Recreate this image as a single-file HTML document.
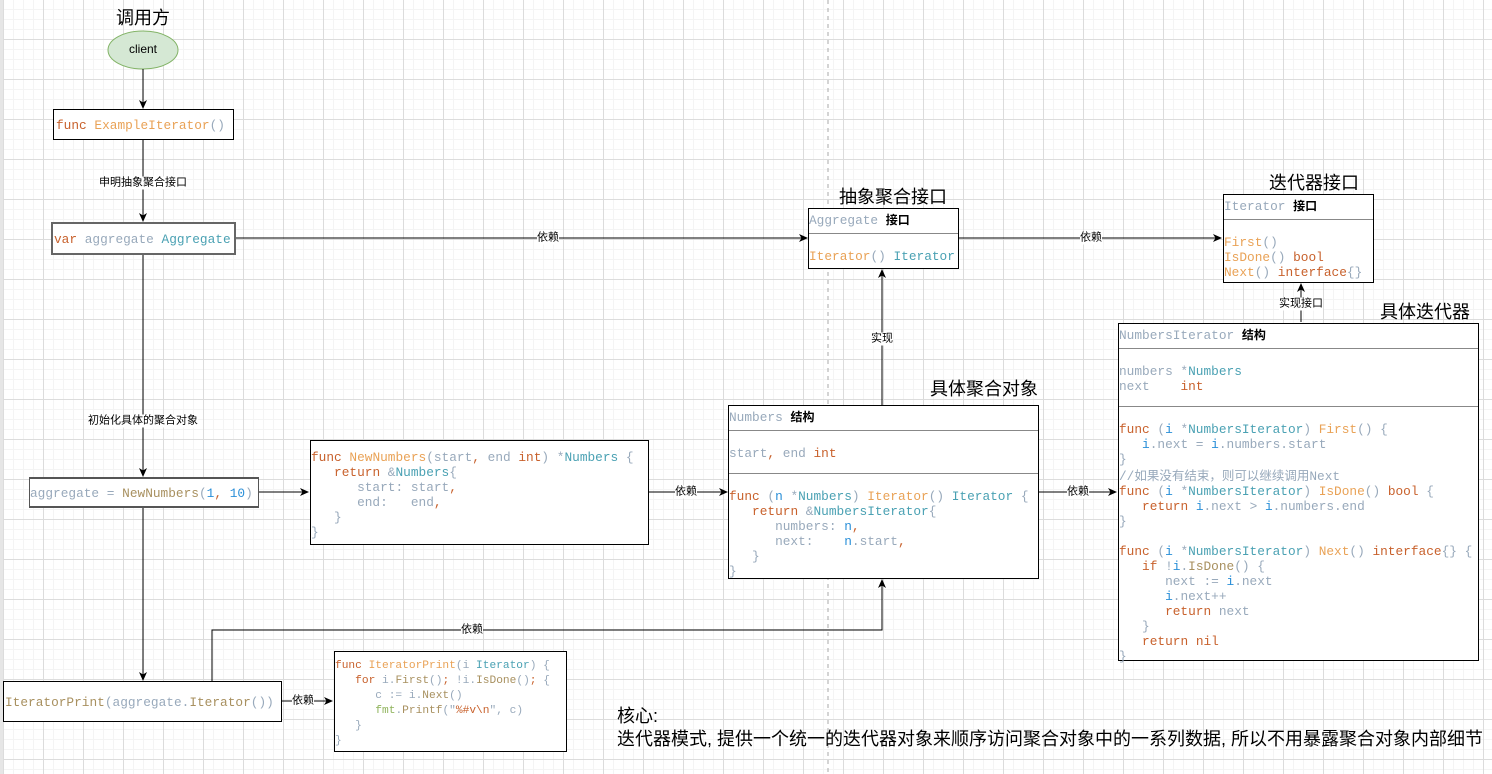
<!DOCTYPE html>
<html><head><meta charset="utf-8"><style>
html,body{margin:0;padding:0}
body{width:1492px;height:774px;position:relative;overflow:hidden;background:#fff;
background-image:linear-gradient(#dcdcdc 1px,transparent 1px),linear-gradient(90deg,#dcdcdc 1px,transparent 1px),linear-gradient(#f4f4f4 1px,transparent 1px),linear-gradient(90deg,#f4f4f4 1px,transparent 1px);
background-size:40px 40px,40px 40px,10px 10px,10px 10px;background-position:3px 39px,3px 39px,3px 9px,3px 9px;
font-family:"Liberation Sans","Noto Sans CJK SC",sans-serif}
.a{position:absolute}
.box{position:absolute;border:1px solid #000;background:#fff;box-sizing:border-box}
pre{margin:0;font-family:"Liberation Mono",monospace;font-size:12.8px;line-height:15px;color:#98a9bb;white-space:pre}
.k{color:#c8612c}.f{color:#e9a256}.t{color:#4aa1b3}.b{color:#2a8fd8}.y{color:#a8905f}.gr{color:#8fb35b}.bk{color:#000;font-family:"Liberation Sans","Noto Sans CJK SC",sans-serif;font-weight:bold;font-size:12px}
.ttl{position:absolute;font-size:18px;color:#000;white-space:nowrap;transform:translateX(-50%)}
.lbl{position:absolute;font-size:11px;background:#fff;white-space:nowrap;transform:translate(-50%,-50%);color:#000;line-height:13px}
.hl{position:absolute;left:0;right:0;height:1px;background:#888}
</style></head><body>
<div class="a" style="left:0;top:0;width:3px;height:774px;background:#e6e6e6"></div>
<svg class="a" style="left:0;top:0" width="1492" height="774">
<defs><marker id="ar" markerWidth="10" markerHeight="10" refX="8" refY="5" orient="auto" markerUnits="userSpaceOnUse"><path d="M0,1 L9,5 L0,9 L2.5,5z" fill="#000"/></marker></defs>
<line x1="828" y1="0" x2="828" y2="774" stroke="#aaa" stroke-dasharray="4,4"/>
<ellipse cx="143" cy="50" rx="35" ry="19" fill="#d5e8d4" stroke="#82b366"/>
<g stroke="#000" fill="none" stroke-width="1">
<line x1="143" y1="69" x2="143" y2="108" marker-end="url(#ar)"/>
<line x1="143" y1="139" x2="143" y2="221" marker-end="url(#ar)"/>
<line x1="143" y1="254" x2="143" y2="476" marker-end="url(#ar)"/>
<line x1="143" y1="507" x2="143" y2="680" marker-end="url(#ar)"/>
<line x1="235" y1="238" x2="807" y2="238" marker-end="url(#ar)"/>
<line x1="958" y1="238" x2="1221" y2="238" marker-end="url(#ar)"/>
<line x1="1301" y1="322" x2="1301" y2="284" marker-end="url(#ar)"/>
<line x1="882" y1="405" x2="882" y2="270" marker-end="url(#ar)"/>
<line x1="1038" y1="492" x2="1116" y2="492" marker-end="url(#ar)"/>
<line x1="648" y1="492" x2="727" y2="492" marker-end="url(#ar)"/>
<line x1="258" y1="492" x2="308" y2="492" marker-end="url(#ar)"/>
<polyline points="212,681 212,630 882,630 882,580" marker-end="url(#ar)"/>
<line x1="281" y1="701" x2="332" y2="701" marker-end="url(#ar)"/>
</g></svg>
<div class="ttl" style="left:143px;top:4px">调用方</div>
<div class="a" style="left:108px;top:42px;width:70px;text-align:center;font-size:12px">client</div>
<div class="box" style="left:53px;top:109px;width:181px;height:31px"><pre style="position:absolute;left:2px;top:8px"><span class="k">func</span> <span class="f">ExampleIterator</span>()</pre></div>
<div class="lbl" style="left:143px;top:183px">申明抽象聚合接口</div>
<div class="box" style="left:51px;top:222px;width:185px;height:33px;border:2px solid #666"><pre style="position:absolute;left:1px;top:8px"><span class="k">var</span> aggregate <span class="t">Aggregate</span></pre></div>
<div class="lbl" style="left:548px;top:238px">依赖</div>
<div class="ttl" style="left:893px;top:183px">抽象聚合接口</div>
<div class="box" style="left:808px;top:208px;width:151px;height:61px">
<pre style="position:absolute;left:0;top:4px">Aggregate <span class="bk">接口</span></pre><div class="hl" style="top:24px"></div>
<pre style="position:absolute;left:0;top:40px"><span class="f">Iterator</span>() <span class="t">Iterator</span></pre></div>
<div class="lbl" style="left:1091px;top:238px">依赖</div>
<div class="ttl" style="left:1314px;top:169px">迭代器接口</div>
<div class="box" style="left:1223px;top:194px;width:151px;height:89px">
<pre style="position:absolute;left:0;top:4px">Iterator <span class="bk">接口</span></pre><div class="hl" style="top:24px"></div>
<pre style="position:absolute;left:0;top:40px"><span class="f">First</span>()
<span class="f">IsDone</span>() <span class="k">bool</span>
<span class="f">Next</span>() <span class="k">interface</span>{}</pre></div>
<div class="lbl" style="left:1301px;top:304px">实现接口</div>
<div class="ttl" style="left:1425px;top:298px">具体迭代器</div>
<div class="box" style="left:1118px;top:323px;width:361px;height:338px">
<pre style="position:absolute;left:0;top:4px">NumbersIterator <span class="bk">结构</span></pre><div class="hl" style="top:24px"></div>
<pre style="position:absolute;left:0;top:40px">numbers *<span class="t">Numbers</span>
next    <span class="k">int</span></pre><div class="hl" style="top:82px"></div>
<pre style="position:absolute;left:0;top:98px"><span class="k">func</span> (<span class="b">i</span> *<span class="t">NumbersIterator</span>) <span class="f">First</span>() {
   <span class="b">i</span>.next = <span class="b">i</span>.numbers.start
}
//<span style="font-family:'Noto Sans CJK SC',sans-serif;font-size:12.5px">如果没有结束，则可以继续调用</span>Next
<span class="k">func</span> (<span class="b">i</span> *<span class="t">NumbersIterator</span>) <span class="f">IsDone</span>() <span class="k">bool</span> {
   <span class="k">return</span> <span class="b">i</span>.next > <span class="b">i</span>.numbers.end
}

<span class="k">func</span> (<span class="b">i</span> *<span class="t">NumbersIterator</span>) <span class="f">Next</span>() <span class="k">interface</span>{} {
   <span class="k">if</span> !<span class="b">i</span>.<span class="y">IsDone</span>() {
      next := <span class="b">i</span>.next
      <span class="b">i</span>.next++
      <span class="k">return</span> next
   }
   <span class="k">return</span> <span class="k">nil</span>
}</pre></div>
<div class="ttl" style="left:984px;top:375px">具体聚合对象</div>
<div class="lbl" style="left:882px;top:339px">实现</div>
<div class="box" style="left:728px;top:405px;width:311px;height:174px">
<pre style="position:absolute;left:0;top:4px">Numbers <span class="bk">结构</span></pre><div class="hl" style="top:24px"></div>
<pre style="position:absolute;left:0;top:40px">start<span class="k">,</span> end <span class="k">int</span></pre><div class="hl" style="top:67px"></div>
<pre style="position:absolute;left:0;top:83px"><span class="k">func</span> (<span class="b">n</span> *<span class="t">Numbers</span>) <span class="f">Iterator</span>() <span class="t">Iterator</span> {
   <span class="k">return</span> &amp;<span class="t">NumbersIterator</span>{
      numbers: <span class="b">n</span><span class="k">,</span>
      next:    <span class="b">n</span>.start<span class="k">,</span>
   }
}</pre></div>
<div class="lbl" style="left:1078px;top:492px">依赖</div>
<div class="box" style="left:310px;top:440px;width:339px;height:105px">
<pre style="position:absolute;left:0;top:9px"><span class="k">func</span> <span class="f">NewNumbers</span>(start<span class="k">,</span> end <span class="k">int</span>) *<span class="t">Numbers</span> {
   <span class="k">return</span> &amp;<span class="t">Numbers</span>{
      start: start<span class="k">,</span>
      end:   end<span class="k">,</span>
   }
}</pre></div>
<div class="lbl" style="left:686px;top:492px">依赖</div>
<div class="lbl" style="left:143px;top:421px">初始化具体的聚合对象</div>
<div class="box" style="left:29px;top:477px;width:230px;height:31px;border:2px solid #555;border-width:2px 1px"><pre style="position:absolute;left:0;top:7px">aggregate = <span class="y">NewNumbers</span>(<span class="b">1</span><span class="k">,</span> <span class="b">10</span>)</pre></div>
<div class="box" style="left:3px;top:681px;width:279px;height:41px"><pre style="position:absolute;left:1px;top:13px"><span class="y">IteratorPrint</span>(aggregate.<span class="y">Iterator</span>())</pre></div>
<div class="lbl" style="left:472px;top:630px">依赖</div>
<div class="lbl" style="left:303px;top:701px">依赖</div>
<div class="box" style="left:334px;top:651px;width:233px;height:101px">
<pre style="position:absolute;left:0;top:7px;font-size:11.2px"><span class="k">func</span> <span class="f">IteratorPrint</span>(i <span class="t">Iterator</span>) {
   <span class="k">for</span> i.<span class="y">First</span>()<span class="k">;</span> !i.<span class="y">IsDone</span>()<span class="k">;</span> {
      c := i.<span class="y">Next</span>()
      <span class="gr">fmt</span>.<span class="y">Printf</span>("<span class="k">%#v\n</span>", c)
   }
}</pre></div>
<div class="a" style="left:617px;top:705px;font-size:18px;line-height:23px;white-space:nowrap;color:#000">核心:<br>迭代器模式, 提供一个统一的迭代器对象来顺序访问聚合对象中的一系列数据, 所以不用暴露聚合对象内部细节</div>
</body></html>
